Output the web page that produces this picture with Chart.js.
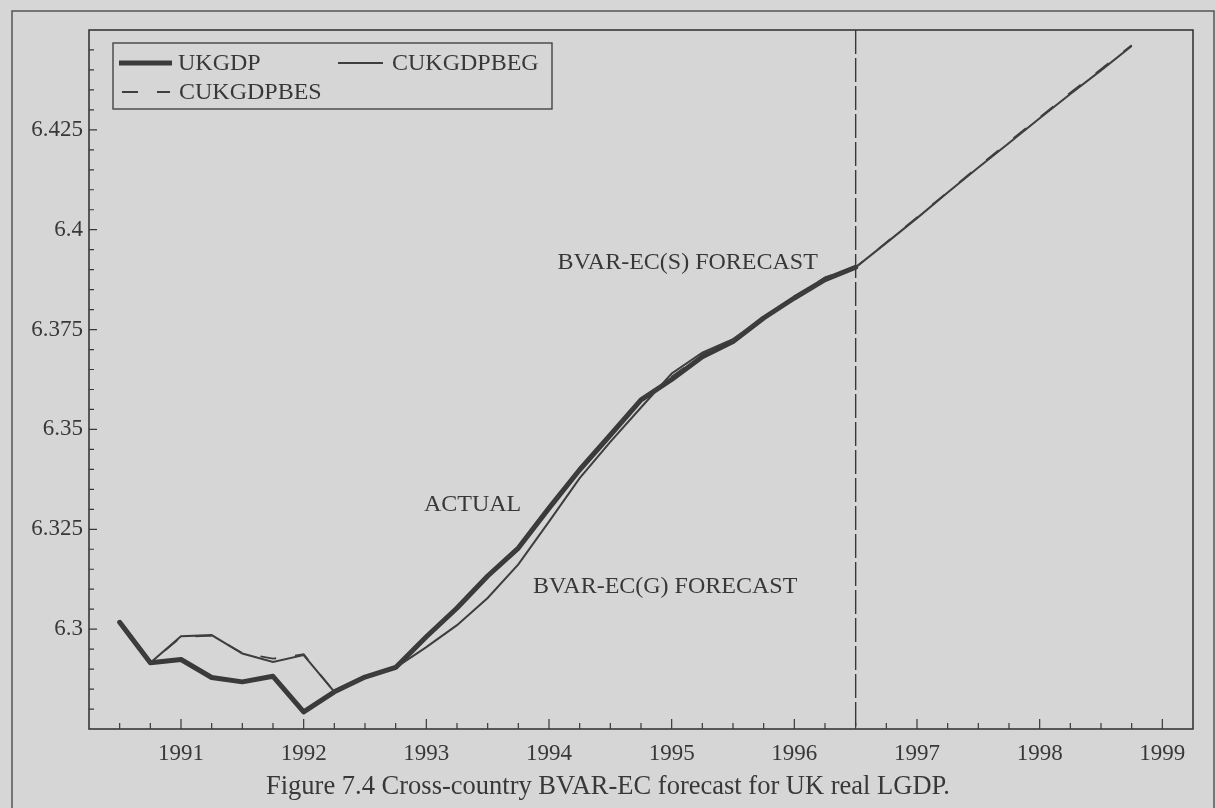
<!DOCTYPE html>
<html>
<head>
<meta charset="utf-8">
<title>UK real LGDP: actual and BVAR-EC forecasts</title>
<script src="https://cdn.jsdelivr.net/npm/chart.js@4/dist/chart.umd.min.js"></script>
<style>
  html, body { margin: 0; padding: 0; background: #d6d6d6; }
  #wrap { width: 1216px; height: 808px; position: relative; }
</style>
</head>
<body>
<div id="wrap"><canvas id="c" width="1216" height="808"></canvas></div>
<script>
// Quarterly observations, 1990Q3 to 1998Q4
const quarters = [
  "1990Q3","1990Q4",
  "1991Q1","1991Q2","1991Q3","1991Q4",
  "1992Q1","1992Q2","1992Q3","1992Q4",
  "1993Q1","1993Q2","1993Q3","1993Q4",
  "1994Q1","1994Q2","1994Q3","1994Q4",
  "1995Q1","1995Q2","1995Q3","1995Q4",
  "1996Q1","1996Q2","1996Q3","1996Q4",
  "1997Q1","1997Q2","1997Q3","1997Q4",
  "1998Q1","1998Q2","1998Q3","1998Q4"
];

// Actual UK real log GDP (ends at the forecast origin, 1996Q3)
const ukgdp = [
  6.3017, 6.2916,
  6.2924, 6.2879, 6.2868, 6.2882,
  6.2793, 6.2843, 6.2880, 6.2904,
  6.2981, 6.3053, 6.3133, 6.3203,
  6.3303, 6.3399, 6.3486, 6.3574,
  6.3625, 6.3682, 6.3720, 6.3779,
  6.3829, 6.3875, 6.3906
];

// BVAR-EC(G) forecast
const cukgdpbeg = [
  6.3017, 6.2916,
  6.2982, 6.2985, 6.2939, 6.2918,
  6.2935, 6.2843, 6.2878, 6.2904,
  6.2955, 6.3010, 6.3078, 6.3162,
  6.3269, 6.3378, 6.3469, 6.3555,
  6.3640, 6.3692, 6.3726, 6.3779,
  6.3826, 6.3873, 6.3906, 6.3967,
  6.4029, 6.4093, 6.4156, 6.4217,
  6.4279, 6.4340, 6.4399, 6.4460
];

// BVAR-EC(S) forecast
const cukgdpbes = [
  6.3017, 6.2916,
  6.2980, 6.2984, 6.2940, 6.2926,
  6.2937, 6.2843, 6.2880, 6.2904,
  6.2981, 6.3053, 6.3133, 6.3203,
  6.3303, 6.3399, 6.3486, 6.3574,
  6.3632, 6.3688, 6.3722, 6.3779,
  6.3829, 6.3881, 6.3906, 6.3968,
  6.4031, 6.4094, 6.4158, 6.4220,
  6.4281, 6.4343, 6.4402, 6.4462
];

// Axis labels
const xTickYears = [1991, 1992, 1993, 1994, 1995, 1996, 1997, 1998, 1999];
const yTickValues = [6.3, 6.325, 6.35, 6.375, 6.4, 6.425];

// Forecast origin marked by the vertical dashed line
const forecastOrigin = "1996Q3";

// In-plot text labels, anchored at (quarter position, level)
const notes = [
  { text: "BVAR-EC(S) FORECAST", x: 1994.07, y: 6.3917 },
  { text: "ACTUAL",              x: 1992.98, y: 6.3311 },
  { text: "BVAR-EC(G) FORECAST", x: 1993.87, y: 6.3106 }
];

const caption = "Figure 7.4 Cross-country BVAR-EC forecast for UK real LGDP.";

// ---------------------------------------------------------------------------

const SERIF = '"Liberation Serif", "Times New Roman", Times, serif';
const INK = '#383838';

function quarterToYear(q) {
  const [y, n] = q.split("Q");
  return Number(y) + (Number(n) - 1) / 4;
}
function toPoints(values) {
  return values.map((v, i) => ({ x: quarterToYear(quarters[i]), y: v }));
}
const near = (a, b) => Math.abs(a - b) < 1e-6;

Chart.defaults.font.family = SERIF;
Chart.defaults.color = INK;

const paperPlugin = {
  id: 'paper',
  beforeDraw(chart) {
    const { ctx, width, height } = chart;
    ctx.save();
    ctx.fillStyle = '#d6d6d6';
    ctx.fillRect(0, 0, width, height);
    // outer page frame
    ctx.strokeStyle = '#555';
    ctx.lineWidth = 1.5;
    ctx.strokeRect(12, 11, width - 14, height + 20);
    ctx.restore();
  }
};

const framePlugin = {
  id: 'frame',
  beforeDatasetsDraw(chart) {
    const { ctx, chartArea: ca, scales } = chart;
    const xo = scales.x.getPixelForValue(quarterToYear(forecastOrigin));
    ctx.save();
    ctx.strokeStyle = INK;
    ctx.lineWidth = 1.4;
    ctx.setLineDash([24, 4]);
    ctx.beginPath();
    ctx.moveTo(xo, ca.top);
    ctx.lineTo(xo, ca.bottom);
    ctx.stroke();
    ctx.restore();
  },
  afterDatasetsDraw(chart) {
    const { ctx, chartArea: ca, scales } = chart;
    ctx.save();
    // plot box
    ctx.strokeStyle = INK;
    ctx.lineWidth = 1.6;
    ctx.strokeRect(ca.left, ca.top, ca.right - ca.left, ca.bottom - ca.top);

    // inward tick marks
    ctx.lineWidth = 1.2;
    ctx.beginPath();
    scales.x.ticks.forEach(t => {
      if (near(t.value, scales.x.min) || near(t.value, scales.x.max)) return;
      const px = scales.x.getPixelForValue(t.value);
      const len = Number.isInteger(Math.round(t.value * 1e6) / 1e6) ? 10 : 6;
      ctx.moveTo(px, ca.bottom);
      ctx.lineTo(px, ca.bottom - len);
    });
    scales.y.ticks.forEach(t => {
      if (near(t.value, scales.y.min) || near(t.value, scales.y.max)) return;
      const py = scales.y.getPixelForValue(t.value);
      const len = yTickValues.some(v => near(v, t.value)) ? 8 : 5;
      ctx.moveTo(ca.left, py);
      ctx.lineTo(ca.left + len, py);
    });
    ctx.stroke();

    // text labels inside the plot
    ctx.fillStyle = INK;
    ctx.font = '24px ' + SERIF;
    ctx.textAlign = 'left';
    ctx.textBaseline = 'middle';
    notes.forEach(n => {
      ctx.fillText(n.text, scales.x.getPixelForValue(n.x), scales.y.getPixelForValue(n.y));
    });

    // legend box
    const lg = { x: ca.left + 24, y: ca.top + 13, w: 439, h: 66 };
    ctx.lineWidth = 1.3;
    ctx.strokeRect(lg.x, lg.y, lg.w, lg.h);
    const ds = chart.data.datasets;
    const entries = [
      { d: ds[2], x0: lg.x + 6,   len: 53, tx: lg.x + 65,  y: lg.y + 20 },
      { d: ds[0], x0: lg.x + 225, len: 45, tx: lg.x + 279, y: lg.y + 20 },
      { d: ds[1], x0: lg.x + 9,   len: 48, tx: lg.x + 66,  y: lg.y + 49 }
    ];
    entries.forEach(e => {
      ctx.save();
      ctx.strokeStyle = e.d.borderColor;
      ctx.lineWidth = e.d.borderWidth;
      ctx.setLineDash(e.d.borderDash || []);
      ctx.beginPath();
      ctx.moveTo(e.x0, e.y);
      ctx.lineTo(e.x0 + e.len, e.y);
      ctx.stroke();
      ctx.restore();
      ctx.fillText(e.d.label, e.tx, e.y + 1);
    });

    // figure caption
    ctx.textAlign = 'center';
    ctx.font = '26.5px ' + SERIF;
    ctx.fillText(caption, 608, 787);
    ctx.restore();
  }
};

new Chart(document.getElementById('c'), {
  type: 'line',
  data: {
    datasets: [
      {
        label: 'CUKGDPBEG',
        data: toPoints(cukgdpbeg),
        borderColor: '#3e3e3e',
        borderWidth: 2,
        pointRadius: 0,
        tension: 0
      },
      {
        label: 'CUKGDPBES',
        data: toPoints(cukgdpbes),
        borderColor: '#3e3e3e',
        borderWidth: 1.8,
        borderDash: [16, 19],
        pointRadius: 0,
        tension: 0
      },
      {
        label: 'UKGDP',
        data: toPoints(ukgdp),
        borderColor: '#3a3a3a',
        borderWidth: 5,
        borderJoinStyle: 'round',
        borderCapStyle: 'round',
        pointRadius: 0,
        tension: 0
      }
    ]
  },
  options: {
    responsive: false,
    animation: false,
    devicePixelRatio: 1,
    layout: { padding: { top: 30, right: 23, bottom: 0, left: 0 } },
    plugins: {
      legend: { display: false },
      tooltip: { enabled: false }
    },
    scales: {
      x: {
        type: 'linear',
        min: 1990.25,
        max: 1999.25,
        grid: { display: false, drawTicks: false },
        border: { display: false },
        ticks: {
          stepSize: 0.25,
          autoSkip: false,
          maxRotation: 0,
          padding: 11,
          color: INK,
          font: { size: 23, family: SERIF },
          callback: v => xTickYears.some(y => near(y, v)) ? String(Math.round(v)) : ''
        },
        afterFit: s => { s.height = 79; }
      },
      y: {
        type: 'linear',
        min: 6.275,
        max: 6.45,
        grid: { display: false, drawTicks: false },
        border: { display: false },
        ticks: {
          stepSize: 0.005,
          autoSkip: false,
          padding: 6,
          color: INK,
          font: { size: 23, family: SERIF },
          callback: v => {
            const hit = yTickValues.find(t => near(t, v));
            return hit === undefined ? '' : String(hit);
          }
        },
        afterFit: s => { s.width = 89; }
      }
    }
  },
  plugins: [paperPlugin, framePlugin]
});
</script>
</body>
</html>
